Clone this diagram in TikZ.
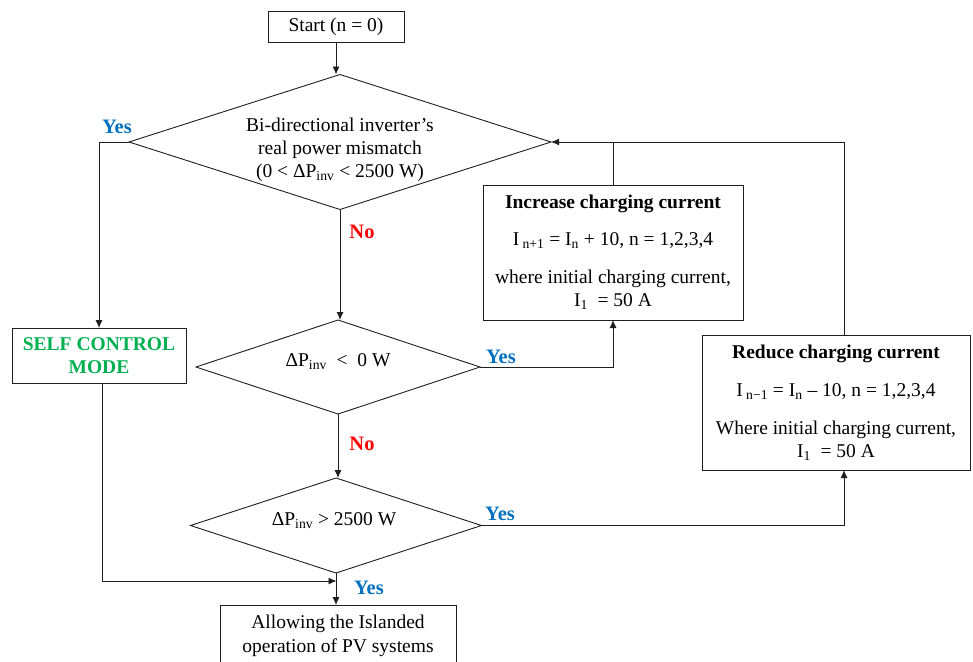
\documentclass[tikz,border=0pt]{standalone}
\usepackage{fontspec}
\setmainfont{Liberation Serif}
\usetikzlibrary{shapes.geometric,arrows.meta,calc}
\definecolor{yesblue}{RGB}{0,112,192}
\definecolor{nored}{RGB}{255,0,0}
\definecolor{modegreen}{RGB}{0,176,80}
\definecolor{ink}{RGB}{30,30,30}
\begin{document}
\begin{tikzpicture}[x=1pt,y=-1pt,
  every node/.style={font=\fontsize{19.5}{23}\selectfont},
  box/.style={draw=ink, line width=0.9pt, inner sep=0pt, outer sep=0pt, align=center},
  dia/.style={draw=ink, diamond, line width=0.9pt, inner sep=0pt, outer sep=0pt},
  txt/.style={align=center, inner sep=0pt},
  yes/.style={text=yesblue, inner sep=0pt, font=\fontsize{20.5}{23}\selectfont\bfseries},
  no/.style={text=nored, inner sep=0pt, font=\fontsize{20.5}{23}\selectfont\bfseries},
  arr/.style={draw=ink, line width=0.9pt, -{Latex[length=8pt,width=7pt]}},
  link/.style={draw=ink, line width=0.9pt},
]
\useasboundingbox (0,0) rectangle (973,661);
\clip (0,0) rectangle (973,661);

% process boxes
\node[box, minimum width=136pt, minimum height=31pt] (start) at (336,26.5) {Start (n = 0)};
\node[box, minimum width=260pt, minimum height=135pt] (inc) at (613,252.5)
  {\textbf{Increase charging current}\\[14pt]
   I\,\textsubscript{n+1} = I\textsubscript{n} + 10, n = 1,2,3,4\\[15pt]
   where initial charging current,\\
   I\textsubscript{1}\ \ = 50 A};
\node[box, minimum width=268pt, minimum height=135pt] (red) at (836,402.5)
  {\textbf{Reduce charging current}\\[15pt]
   I\,\textsubscript{n−1} = I\textsubscript{n} – 10, n = 1,2,3,4\\[15pt]
   Where initial charging current,\\
   I\textsubscript{1}\ \ = 50 A};
\node[box, minimum width=174pt, minimum height=55pt, text=modegreen, font=\fontsize{19.5}{23}\selectfont\bfseries] (self) at (99,355.5)
  {SELF CONTROL\\MODE};
\node[box, minimum width=236pt, minimum height=62pt] (out) at (338,636)
  {Allowing the Islanded\\[1pt]operation of PV systems};

% decision diamonds and their texts
\node[dia, minimum width=422pt, minimum height=135pt] (d1) at (340,142) {};
\node[txt] (d1t) at (340,149.5)
  {Bi-directional inverter’s\\real power mismatch\\(0 < ΔP\textsubscript{inv} < 2500 W)};
\node[dia, minimum width=284pt, minimum height=94pt] (d2) at (338,367) {};
\node[txt] (d2t) at (338,362) {ΔP\textsubscript{inv}\ \ <\ \ 0 W};
\node[dia, minimum width=291pt, minimum height=95pt] (d3) at (336,525.5) {};
\node[txt] (d3t) at (334,521) {ΔP\textsubscript{inv} > 2500 W};

% branch labels
\node[yes] (y1) at (117,127) {Yes};
\node[no]  (n1) at (362,232) {No};
\node[yes] (y2) at (501,357) {Yes};
\node[no]  (n2) at (362,444) {No};
\node[yes] (y3) at (500,514) {Yes};
\node[yes] (y4) at (369,588) {Yes};

% junction points on box edges
\coordinate (rtop) at (844,335);
\coordinate (rbot) at (844,470);
\coordinate (join) at ($(d3.south)!0.25!(out.north)$);

% connectors
\draw[arr] (start.south) -- (start.south |- d1.north);
\draw[arr] (d1.west) -| (self.north);
\draw[arr] (d1.south) -- (d1.south |- d2.north);
\draw[arr] (d2.east) -| (inc.south);
\draw[link] (inc.north) -- (inc.north |- d1.east);
\draw[arr] (rtop) |- (d1.east);
\draw[arr] (d2.south) -- (d2.south |- d3.north);
\draw[arr] (d3.east) -| (rbot);
\draw[arr] (d3.south) -- (d3.south |- out.north);
\draw[arr] ([xshift=3pt]self.south) |- (join);
\end{tikzpicture}
\end{document}
